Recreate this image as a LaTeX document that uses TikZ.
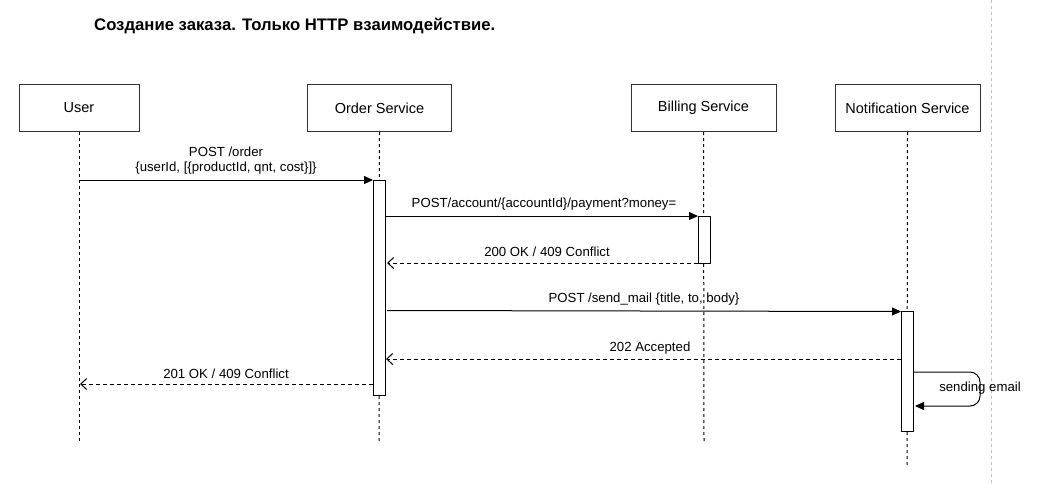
\documentclass[tikz,border=0pt]{standalone}
\usepackage{fontspec}
\setmainfont{Liberation Sans}
\usetikzlibrary{arrows.meta}
\begin{document}
\begin{tikzpicture}[x=1pt,y=-1pt,
  actor/.style={draw=black!80,line width=1pt,fill=white,minimum width=120pt,minimum height=47pt,font=\fontsize{14.5}{16}\selectfont,inner sep=0pt},
  life/.style={draw=black,line width=1pt,dash pattern=on 3pt off 3pt},
  act/.style={draw=black,line width=0.9pt,fill=white},
  msg/.style={draw=black,line width=1pt,-{Triangle[length=9pt,width=8pt]}},
  ret/.style={draw=black,line width=0.9pt,dash pattern=on 4pt off 3pt,-{Straight Barb[length=6pt,width=11pt,line width=1pt]}},
  lbl/.style={font=\fontsize{13.2}{15}\selectfont,inner sep=0pt,text=black}
]
\useasboundingbox (0,0) rectangle (1047,483);
\draw[black!25,line width=0.8pt,dash pattern=on 3pt off 3pt] (991,0) -- (991,483);
\node[font=\bfseries\fontsize{16.7}{19}\selectfont,anchor=west,inner sep=0pt] (title) at (94,26) {Создание заказа. Только HTTP взаимодействие.};
% actors
\node[actor,minimum width=120pt] (user) at (79,108) {User};
\node[actor,minimum width=144pt] (order) at (379.5,108) {Order Service};
\node[actor,minimum width=145pt] (bill) at (703.5,108) {Billing Service};
\node[actor,minimum width=145pt] (notif) at (907.5,108) {Notification Service};
% lifelines
\coordinate (ue) at (79,443);
\coordinate (oe) at (379,443);
\coordinate (be) at (704,443);
\coordinate (ne) at (907,466);
\draw[life] (user.south) -- (ue);
\draw[life] (order.south) -- (oe);
\draw[life] (bill.south) -- (be);
\draw[life] (notif.south) -- (ne);
% activations
\draw[act] (373,180) rectangle (385,395);
\draw[act] (698,216) rectangle (710,263);
\draw[act] (901,311) rectangle (913,431);
% messages
\coordinate (m1a) at (79,180); \coordinate (m1b) at (373,180);
\draw[msg] (m1a) -- (m1b);
\node[lbl,align=center] (l1) at (226,160.5) {POST /order\\\{userId, [\{productId, qnt, cost\}]\}};
\coordinate (m2a) at (385,216); \coordinate (m2b) at (698,216);
\draw[msg] (m2a) -- (m2b);
\node[lbl] (l2) at (544,204) {POST/account/\{accountId\}/payment?money=};
\coordinate (m3a) at (698,263); \coordinate (m3b) at (387,263);
\draw[ret] (m3a) -- (m3b);
\node[lbl] (l3) at (547,252) {200 OK / 409 Conflict};
\coordinate (m4a) at (387,310.5); \coordinate (m4b) at (901,311.5);
\draw[msg] (m4a) -- (m4b);
\node[lbl] (l4) at (644,299) {POST /send\_mail \{title, to, body\}};
\coordinate (m5a) at (901,359); \coordinate (m5b) at (386,359);
\draw[ret] (m5a) -- (m5b);
\node[lbl] (l5) at (650,348) {202 Accepted};
\coordinate (m6a) at (373,384); \coordinate (m6b) at (80,384);
\draw[ret] (m6a) -- (m6b);
\node[lbl] (l6) at (226,374) {201 OK / 409 Conflict};
% self loop
\coordinate (s1) at (913,372);
\coordinate (s2) at (980,372);
\coordinate (s3) at (980,406);
\coordinate (s4) at (915,406);
\draw[msg,rounded corners=10pt] (s1) -- (s2) -- (s3) -- (s4);
\node[lbl] (l7) at (980,388) {sending email};
\end{tikzpicture}
\end{document}
